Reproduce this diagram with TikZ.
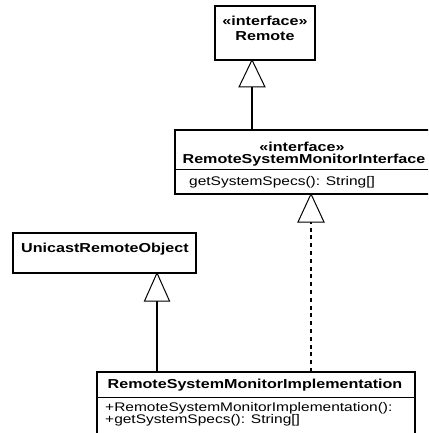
\documentclass[tikz,border=0pt]{standalone}
\usepackage{fontspec}
\setmainfont{Liberation Sans}[FakeStretch=1.24]
\begin{document}
\begin{tikzpicture}[x=1pt,y=-1pt,
  classbox/.style={draw=black, line width=1.2pt},
  sep/.style={draw=black, line width=0.8pt},
  title/.style={font=\fontsize{13}{13}\selectfont\bfseries, inner sep=0pt, anchor=center},
  member/.style={font=\fontsize{12.5}{13}\selectfont, inner sep=0pt, anchor=west},
  link/.style={draw=black, line width=1.8pt},
  reallink/.style={draw=black, line width=1.8pt, dash pattern=on 4pt off 3.8pt},
  head/.style={draw=black, fill=white, line width=1pt, line join=miter}
]
\useasboundingbox (0,0) rectangle (428,433);
\begin{scope}
\clip (0,0) rectangle (428,433);

% interface Remote
\draw[classbox] (215,6) rectangle (315,60);
\node[title] (remStereo) at (265,21) {«interface»};
\node[title] (remName) at (265,36) {Remote};
\coordinate (remTip) at (252,60);
\coordinate (remBase) at (252,87);

% interface RemoteSystemMonitorInterface
\draw[classbox] (175,130) rectangle (437,194);
\draw[sep] (175,169) -- (437,169);
\node[title] (ifStereo) at (302,147) {«interface»};
\node[title] (ifName) at (304,160) {RemoteSystemMonitorInterface};
\node[member] (ifOp) at (189,182) {getSystemSpecs(): String[]};
\coordinate (ifTop) at (252,130);
\coordinate (ifTip) at (311,194);
\coordinate (ifBase) at (311,222);

% class UnicastRemoteObject
\draw[classbox] (13,233) rectangle (196,273);
\node[title] (uroName) at (105,249) {UnicastRemoteObject};
\coordinate (uroTip) at (157,273);
\coordinate (uroBase) at (157,301);

% class RemoteSystemMonitorImplementation
\draw[classbox] (97,372) rectangle (415,440);
\draw[sep] (97,397) -- (415,397);
\node[title] (implName) at (255,385) {RemoteSystemMonitorImplementation};
\node[member] (implCtor) at (105,408) {+RemoteSystemMonitorImplementation():};
\node[member] (implOp) at (105,420) {+getSystemSpecs(): String[]};
\coordinate (implLeft) at (157,372);
\coordinate (implRight) at (311,372);

% generalization: interface extends Remote
\draw[link] (ifTop) -- (remBase);
\draw[head] (remTip) -- (239,87) -- (265,87) -- cycle;

% realization: implementation of the interface
\draw[reallink] (implRight) -- (ifBase);
\draw[head] (ifTip) -- (298,222) -- (324,222) -- cycle;

% generalization: implementation extends UnicastRemoteObject
\draw[link] (implLeft) -- (uroBase);
\draw[head] (uroTip) -- (144.5,301) -- (169.5,301) -- cycle;
\end{scope}
\end{tikzpicture}
\end{document}
